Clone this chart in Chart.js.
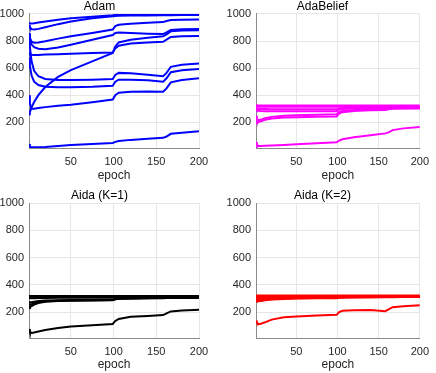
<!DOCTYPE html>
<html>
<head>
<meta charset="utf-8">
<script src="https://cdn.jsdelivr.net/npm/chart.js@4/dist/chart.umd.min.js"></script>
<style>
  html, body { margin: 0; padding: 0; background: #fff; }
  #wrap { position: relative; width: 436px; height: 373px; }
  #wrap canvas { position: absolute; }
</style>
</head>
<body>
<div id="wrap">
  <canvas id="c1" width="218" height="186" style="left:0;top:0"></canvas>
  <canvas id="c2" width="218" height="186" style="left:218px;top:0"></canvas>
  <canvas id="c3" width="218" height="187" style="left:0;top:186px"></canvas>
  <canvas id="c4" width="218" height="187" style="left:218px;top:186px"></canvas>
</div>
<script>
const epochs = [1, 2, 4, 7, 12, 20, 35, 50, 75, 99, 102, 106, 120, 140, 158, 162, 167, 180, 200];
const xTicks = [50, 100, 150, 200];
const yTicks = [200, 400, 600, 800, 1000];

// Adam
const adam = [
  [935, 932, 930, 932, 937, 945, 958, 968, 980, 990, 992, 993, 994, 995, 995, 996, 997, 997, 997],
  [918, 902, 888, 885, 890, 902, 925, 945, 968, 983, 986, 987, 988, 989, 990, 990, 991, 992, 992],
  [860, 825, 795, 788, 790, 798, 818, 835, 860, 885, 910, 920, 928, 935, 940, 948, 955, 958, 960],
  [850, 810, 775, 755, 743, 740, 752, 773, 810, 845, 860, 863, 860, 855, 852, 865, 882, 888, 890],
  [720, 705, 698, 697, 698, 700, 703, 707, 712, 716, 745, 765, 782, 790, 795, 810, 830, 835, 837],
  [260, 275, 310, 350, 400, 460, 535, 585, 650, 712, 760, 790, 810, 825, 835, 850, 872, 878, 880],
  [850, 760, 650, 580, 540, 520, 512, 512, 515, 520, 550, 565, 562, 552, 540, 565, 610, 625, 635],
  [680, 620, 545, 500, 475, 462, 458, 458, 462, 470, 500, 515, 515, 510, 500, 525, 570, 585, 593],
  [400, 340, 300, 300, 305, 312, 322, 330, 348, 368, 400, 418, 425, 428, 425, 450, 495, 512, 525],
  [40, 22, 15, 15, 16, 18, 25, 32, 40, 47, 55, 62, 70, 78, 85, 95, 115, 123, 133]
];

// AdaBelief
const adaBelief = [
  [325, 325, 324, 324, 324, 324, 324, 324, 324, 324, 324, 324, 324, 324, 324, 324, 324, 324, 324],
  [315, 315, 314, 314, 314, 314, 314, 314, 314, 314, 315, 316, 316, 316, 316, 317, 317, 317, 317],
  [308, 300, 298, 298, 298, 297, 297, 297, 297, 297, 303, 306, 308, 309, 309, 311, 312, 312, 312],
  [298, 290, 285, 283, 282, 282, 282, 282, 282, 282, 293, 298, 302, 304, 305, 307, 308, 309, 309],
  [250, 225, 215, 220, 230, 240, 248, 252, 256, 260, 275, 283, 290, 293, 295, 300, 303, 304, 305],
  [195, 195, 200, 208, 218, 228, 235, 238, 240, 242, 265, 275, 284, 288, 290, 296, 300, 301, 302],
  [55, 35, 25, 25, 26, 28, 33, 37, 45, 52, 65, 75, 90, 105, 118, 125, 142, 155, 165]
];

// Aida (K=1)
const aidaK1 = [
  [318, 318, 318, 318, 318, 318, 318, 318, 318, 318, 318, 318, 318, 318, 318, 318, 318, 318, 318],
  [312, 312, 312, 312, 312, 312, 312, 312, 312, 312, 313, 313, 313, 313, 313, 313, 313, 313, 313],
  [305, 303, 302, 302, 303, 304, 305, 305, 306, 306, 307, 308, 308, 308, 309, 309, 309, 310, 310],
  [275, 272, 272, 276, 281, 285, 287, 288, 289, 290, 297, 300, 302, 303, 304, 305, 306, 306, 307],
  [262, 255, 258, 265, 273, 280, 283, 285, 287, 288, 295, 298, 300, 302, 303, 304, 305, 305, 306],
  [240, 235, 243, 255, 267, 276, 281, 283, 285, 286, 294, 297, 299, 301, 302, 303, 304, 304, 305],
  [76, 55, 47, 50, 58, 68, 84, 94, 103, 113, 135, 150, 165, 172, 178, 190, 205, 212, 218]
];

// Aida (K=2)
const aidaK2 = [
  [322, 322, 322, 322, 322, 322, 322, 322, 322, 322, 322, 322, 322, 322, 322, 322, 322, 322, 322],
  [318, 318, 318, 317, 317, 317, 317, 317, 317, 317, 317, 317, 317, 317, 317, 317, 317, 317, 317],
  [312, 310, 309, 309, 310, 311, 312, 312, 313, 313, 314, 314, 314, 314, 315, 315, 315, 315, 315],
  [303, 298, 296, 297, 300, 303, 306, 307, 308, 309, 311, 312, 312, 312, 313, 313, 313, 313, 313],
  [295, 290, 289, 291, 295, 299, 302, 304, 305, 306, 309, 310, 310, 311, 311, 311, 312, 312, 312],
  [287, 282, 282, 285, 290, 295, 299, 301, 303, 304, 307, 308, 309, 309, 310, 310, 310, 311, 311],
  [280, 278, 279, 282, 287, 292, 296, 299, 301, 302, 305, 306, 307, 308, 308, 309, 309, 310, 310],
  [138, 125, 112, 115, 125, 145, 162, 168, 175, 180, 200, 210, 213, 216, 207, 220, 236, 243, 250]
];

const FONT = "'Liberation Sans', Arial, Helvetica, sans-serif";

// draws one subplot; area = wanted plot box inside its canvas
function desenharPainel(id, titulo, series, cor, area) {
  const canvas = document.getElementById(id);
  const W = canvas.width, H = canvas.height;
  new Chart(canvas.getContext("2d"), {
    type: "line",
    data: {
      datasets: series.map(vals => ({
        data: epochs.map((e, i) => ({ x: e, y: vals[i] })),
        borderColor: cor,
        borderWidth: 2,
        pointRadius: 0,
        tension: 0,
        fill: false
      }))
    },
    options: {
      responsive: false,
      animation: false,
      devicePixelRatio: 1,
      layout: { padding: { left: 0, right: W - area.right, top: 0, bottom: 0 } },
      plugins: {
        legend: { display: false },
        tooltip: { enabled: false },
        title: {
          display: true,
          text: titulo,
          color: "#000",
          font: { family: FONT, size: 12, weight: "normal", lineHeight: 1.2 },
          padding: { top: area.top - 14.4, bottom: 0 }
        }
      },
      scales: {
        x: {
          type: "linear",
          min: 1,
          max: 200,
          afterBuildTicks: s => { s.ticks = xTicks.map(v => ({ value: v })); },
          afterFit: s => { s.height = H - area.bottom; },
          grid: { color: "#e6e6e6", drawTicks: false },
          border: { color: "#8a8a8a", width: 1 },
          ticks: { color: "#262626", padding: 7, maxRotation: 0, font: { family: FONT, size: 11 } },
          title: {
            display: true,
            text: "epoch",
            color: "#262626",
            font: { family: FONT, size: 12 },
            padding: { top: 0, bottom: area.epochPad }
          }
        },
        y: {
          min: 10,
          max: 1000,
          afterBuildTicks: s => { s.ticks = yTicks.map(v => ({ value: v })); },
          afterFit: s => { s.width = area.left; },
          grid: { color: "#e6e6e6", drawTicks: false },
          border: { color: "#8a8a8a", width: 1 },
          ticks: {
            color: "#262626",
            padding: 5,
            font: { family: FONT, size: 11 },
            callback: v => String(v)
          }
        }
      }
    }
  });
}

desenharPainel("c1", "Adam", adam, "#0000ff", { left: 29, right: 199, top: 14, bottom: 148, epochPad: 3 });
desenharPainel("c2", "AdaBelief", adaBelief, "#ff00ff", { left: 38, right: 209, top: 14, bottom: 148, epochPad: 3 });
desenharPainel("c3", "Aida (K=1)", aidaK1, "#000000", { left: 29, right: 199, top: 17, bottom: 152, epochPad: 1 });
desenharPainel("c4", "Aida (K=2)", aidaK2, "#ff0000", { left: 38, right: 209, top: 17, bottom: 152, epochPad: 1 });
</script>
</body>
</html>
